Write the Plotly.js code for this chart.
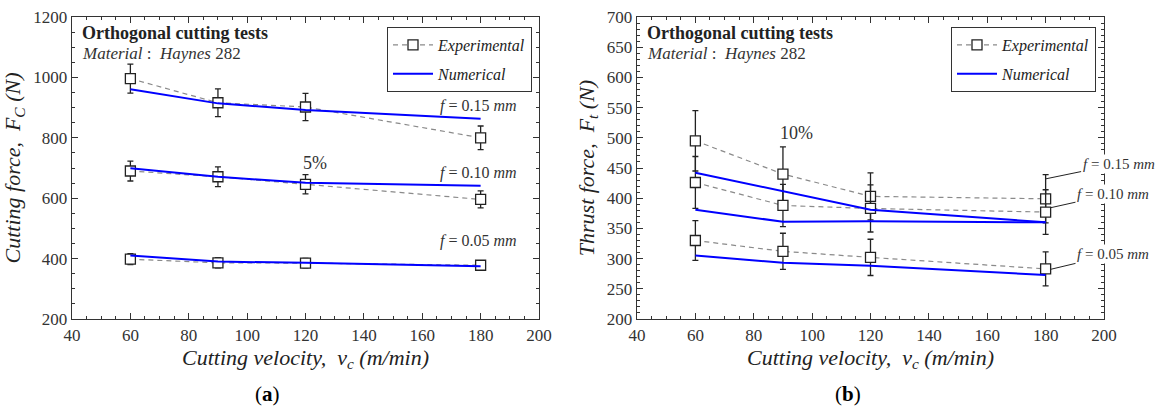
<!DOCTYPE html>
<html>
<head>
<meta charset="utf-8">
<script src="https://cdn.plot.ly/plotly-3.0.1.min.js"></script>
<style>html,body{margin:0;padding:0;background:#fff;}#chart{width:1161px;height:407px;}</style>
</head>
<body>
<div id="chart"></div>
<script>
// ---- data ----
const velocity = [60, 90, 120, 180];

// (a) Cutting force Fc [N]
const fcExp015 = [996, 916, 902, 800];
const fcErr015 = [48, 46, 45, 39];
const fcNum015 = [961, 914, 892, 863];
const fcExp010 = [690, 671, 646, 596];
const fcErr010 = [33, 33, 32, 28];
const fcNum010 = [699, 671, 651, 641];
const fcExp005 = [398, 386, 385, 378];
const fcErr005 = [18, 17, 16, 15];
const fcNum005 = [410, 390, 386, 375];

// (b) Thrust force Ft [N]
const ftExp015 = [495, 440, 403, 399];
const ftErr015 = [50, 45, 39, 40];
const ftNum015 = [442, 412, 381, 360];
const ftExp010 = [426, 388, 383, 377];
const ftErr010 = [43, 35, 39, 37];
const ftNum010 = [381, 361, 362, 360];
const ftExp005 = [330, 312, 302, 283];
const ftErr005 = [33, 30, 30, 28];
const ftNum005 = [305, 293, 288, 273];

const feedLabels = ['<i>f</i> = 0.15 <i>mm</i>', '<i>f</i> = 0.10 <i>mm</i>', '<i>f</i> = 0.05 <i>mm</i>'];

// ---- styles ----
const SERIF = '"Liberation Serif"';
const INK = '#222';
const expStyle = (legendId) => ({
  mode: 'lines+markers',
  line: {color: '#8a8a8a', width: 1.2, dash: '5px,4px'},
  marker: {symbol: 'square', size: 10, color: '#fff', line: {color: INK, width: 1.3}},
  legend: legendId
});
const numStyle = (legendId) => ({
  mode: 'lines',
  line: {color: '#0000ff', width: 2},
  legend: legendId
});

function expTrace(y, err, xa, ya, legendId, show) {
  return Object.assign(expStyle(legendId), {
    x: velocity, y: y, xaxis: xa, yaxis: ya, type: 'scatter',
    name: 'Experimental', showlegend: show, legendgroup: 'exp' + xa,
    error_y: {type: 'data', array: err, visible: true, color: INK, thickness: 1.3, width: 3}
  });
}
function numTrace(y, xa, ya, legendId, show) {
  return Object.assign(numStyle(legendId), {
    x: velocity, y: y, xaxis: xa, yaxis: ya, type: 'scatter',
    name: 'Numerical', showlegend: show, legendgroup: 'num' + xa
  });
}

const traces = [
  expTrace(fcExp015, fcErr015, 'x', 'y', 'legend', true),
  expTrace(fcExp010, fcErr010, 'x', 'y', 'legend', false),
  expTrace(fcExp005, fcErr005, 'x', 'y', 'legend', false),
  numTrace(fcNum015, 'x', 'y', 'legend', true),
  numTrace(fcNum010, 'x', 'y', 'legend', false),
  numTrace(fcNum005, 'x', 'y', 'legend', false),
  expTrace(ftExp015, ftErr015, 'x2', 'y2', 'legend2', true),
  expTrace(ftExp010, ftErr010, 'x2', 'y2', 'legend2', false),
  expTrace(ftExp005, ftErr005, 'x2', 'y2', 'legend2', false),
  numTrace(ftNum015, 'x2', 'y2', 'legend2', true),
  numTrace(ftNum010, 'x2', 'y2', 'legend2', false),
  numTrace(ftNum005, 'x2', 'y2', 'legend2', false)
];

const W = 1161, H = 407;
const px = v => v / W, py = v => 1 - v / H;

const baseAxis = {
  showline: true, linecolor: '#333', linewidth: 1.3, mirror: 'allticks',
  ticks: 'inside', ticklen: 6, tickwidth: 1, tickcolor: '#333',
  showgrid: false, zeroline: false, automargin: false,
  tickfont: {family: SERIF, size: 17, color: '#333'}
};
const titleFont = {family: SERIF, size: 22, color: INK, style: 'italic'};

const layout = {
  width: W, height: H,
  margin: {l: 0, r: 0, t: 0, b: 0},
  paper_bgcolor: '#fff', plot_bgcolor: '#fff',
  font: {family: SERIF},
  showlegend: true,
  xaxis: Object.assign({}, baseAxis, {
    domain: [px(72), px(539)], range: [40, 200], dtick: 20, tick0: 0, anchor: 'y',
    minor: {dtick: 5, ticks: 'inside', ticklen: 3, tickcolor: '#333'},
    title: {text: 'Cutting velocity,&nbsp; v<sub>c</sub> (m/min)', font: titleFont, standoff: 0}
  }),
  yaxis: Object.assign({}, baseAxis, {
    domain: [py(319), py(17)], range: [200, 1200], dtick: 200, anchor: 'x',
    minor: {dtick: 50, ticks: 'inside', ticklen: 3, tickcolor: '#333'},
    title: {text: 'Cutting force,&nbsp; F<sub>C</sub> (N)', font: titleFont, standoff: 6}
  }),
  xaxis2: Object.assign({}, baseAxis, {
    domain: [px(637), px(1104)], range: [40, 200], dtick: 20, tick0: 0, anchor: 'y2',
    minor: {dtick: 5, ticks: 'inside', ticklen: 3, tickcolor: '#333'},
    title: {text: 'Cutting velocity,&nbsp; v<sub>c</sub> (m/min)', font: titleFont, standoff: 0}
  }),
  yaxis2: Object.assign({}, baseAxis, {
    domain: [py(319), py(17)], range: [200, 700], dtick: 50, anchor: 'x2',
    minor: {dtick: 10, ticks: 'inside', ticklen: 3, tickcolor: '#333'},
    title: {text: 'Thrust force,&nbsp; F<sub>t</sub> (N)', font: titleFont, standoff: 6}
  }),
  legend: {
    x: px(532), y: py(27), xanchor: 'right', yanchor: 'top',
    bgcolor: '#fff', bordercolor: '#333', borderwidth: 1, itemwidth: 40,
    tracegroupgap: 5, font: {family: SERIF, size: 16, color: INK, style: 'italic'}
  },
  legend2: {
    x: px(1096), y: py(27), xanchor: 'right', yanchor: 'top',
    bgcolor: '#fff', bordercolor: '#333', borderwidth: 1, itemwidth: 40,
    tracegroupgap: 5, font: {family: SERIF, size: 16, color: INK, style: 'italic'}
  },
  annotations: [
    // headers
    {xref: 'paper', yref: 'paper', x: px(80), y: py(33), xanchor: 'left', yanchor: 'middle', showarrow: false,
     text: '<b>Orthogonal cutting tests</b>', font: {family: SERIF, size: 18, color: INK}},
    {xref: 'paper', yref: 'paper', x: px(80), y: py(54), xanchor: 'left', yanchor: 'middle', showarrow: false,
     text: '<i>Material</i> :&nbsp; <i>Haynes</i> 282', font: {family: SERIF, size: 17, color: '#333'}},
    {xref: 'paper', yref: 'paper', x: px(645), y: py(33), xanchor: 'left', yanchor: 'middle', showarrow: false,
     text: '<b>Orthogonal cutting tests</b>', font: {family: SERIF, size: 18, color: INK}},
    {xref: 'paper', yref: 'paper', x: px(645), y: py(54), xanchor: 'left', yanchor: 'middle', showarrow: false,
     text: '<i>Material</i> :&nbsp; <i>Haynes</i> 282', font: {family: SERIF, size: 17, color: '#333'}},
    // (a) feed labels
    {xref: 'x', yref: 'y', x: 165.4, y: 905, xanchor: 'left', yanchor: 'middle', showarrow: false,
     text: feedLabels[0], font: {family: SERIF, size: 16, color: '#333'}},
    {xref: 'x', yref: 'y', x: 165.4, y: 682, xanchor: 'left', yanchor: 'middle', showarrow: false,
     text: feedLabels[1], font: {family: SERIF, size: 16, color: '#333'}},
    {xref: 'x', yref: 'y', x: 165.4, y: 459, xanchor: 'left', yanchor: 'middle', showarrow: false,
     text: feedLabels[2], font: {family: SERIF, size: 16, color: '#333'}},
    {xref: 'x', yref: 'y', x: 123.2, y: 716, showarrow: false,
     text: '5%', font: {family: SERIF, size: 18, color: '#333'}},
    // (b) feed labels with leaders
    {xref: 'x2', yref: 'y2', x: 180, y: 432, ax: 73, ay: -15, showarrow: true, arrowhead: 0, arrowwidth: 1, arrowcolor: INK,
     standoff: 0, bgcolor: '#fff', text: feedLabels[0], font: {family: SERIF, size: 15, color: '#333'}},
    {xref: 'x2', yref: 'y2', x: 181.5, y: 384, ax: 63, ay: -14, showarrow: true, arrowhead: 0, arrowwidth: 1, arrowcolor: INK,
     standoff: 0, bgcolor: '#fff', text: feedLabels[1], font: {family: SERIF, size: 15, color: '#333'}},
    {xref: 'x2', yref: 'y2', x: 181.5, y: 282, ax: 63, ay: -15, showarrow: true, arrowhead: 0, arrowwidth: 1, arrowcolor: INK,
     standoff: 0, bgcolor: '#fff', text: feedLabels[2], font: {family: SERIF, size: 15, color: '#333'}},
    {xref: 'x2', yref: 'y2', x: 94.5, y: 508, showarrow: false,
     text: '10%', font: {family: SERIF, size: 18, color: '#333'}},
    // panel labels
    {xref: 'paper', yref: 'paper', x: px(253), y: py(394), yanchor: 'middle', showarrow: false,
     text: '(<b>a</b>)', font: {family: SERIF, size: 21, color: '#000'}},
    {xref: 'paper', yref: 'paper', x: px(863), y: py(394), yanchor: 'middle', showarrow: false,
     text: '(<b>b</b>)', font: {family: SERIF, size: 21, color: '#000'}}
  ]
};

Plotly.newPlot('chart', traces, layout, {staticPlot: true, displayModeBar: false});
</script>
</body>
</html>
